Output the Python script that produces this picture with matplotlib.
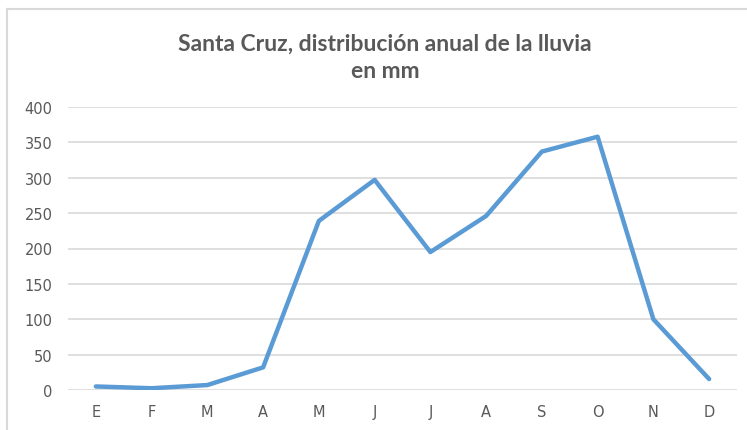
import matplotlib.pyplot as plt
from matplotlib.lines import Line2D

# data
months = ['E', 'F', 'M', 'A', 'M', 'J', 'J', 'A', 'S', 'O', 'N', 'D']
rain_mm = [5, 2.5, 7, 32, 239, 297, 195, 246, 337, 358, 100, 15.5]
yticks = [0, 50, 100, 150, 200, 250, 300, 350, 400]
title = 'Santa Cruz, distribución anual de la lluvia\nen mm'

W, H = 747, 431
fig = plt.figure(figsize=(W / 100, H / 100), dpi=100)
fig.patch.set_facecolor('white')

# chart-area border (top and left edge visible only)
border = '#D9D9D9'
fig.add_artist(Line2D([7 / W, 1], [1 - 10 / H, 1 - 10 / H], color=border, lw=1.5, transform=fig.transFigure))
fig.add_artist(Line2D([7 / W, 7 / W], [0, 1 - 10 / H], color=border, lw=1.5, transform=fig.transFigure))

ax = fig.add_axes([68 / W, (H - 391) / H, (737 - 68) / W, (391 - 108) / H])

x = range(len(months))
ax.plot(x, rain_mm, color='#5B9BD5', lw=3.2, solid_joinstyle='round', solid_capstyle='round', zorder=3)

ax.set_xlim(-0.5, len(months) - 0.5)
ax.set_ylim(0, 400)
ax.set_xticks(list(x))
ax.set_xticklabels(months)
ax.set_yticks(yticks)

for s in ax.spines.values():
    s.set_visible(False)
ax.grid(axis='y', color='#D9D9D9', lw=1.2)
ax.set_axisbelow(True)
ax.tick_params(length=0, labelsize=10.5, labelcolor='#595959')
ax.tick_params(axis='y', pad=11)
ax.tick_params(axis='x', pad=10)

fig.text(385 / W, 1 - 58 / H, title, ha='center', va='center', fontsize=16.5,
         fontweight='bold', color='#595959', linespacing=1.38, family='Lato')

fig.savefig('out.png', dpi=100)
